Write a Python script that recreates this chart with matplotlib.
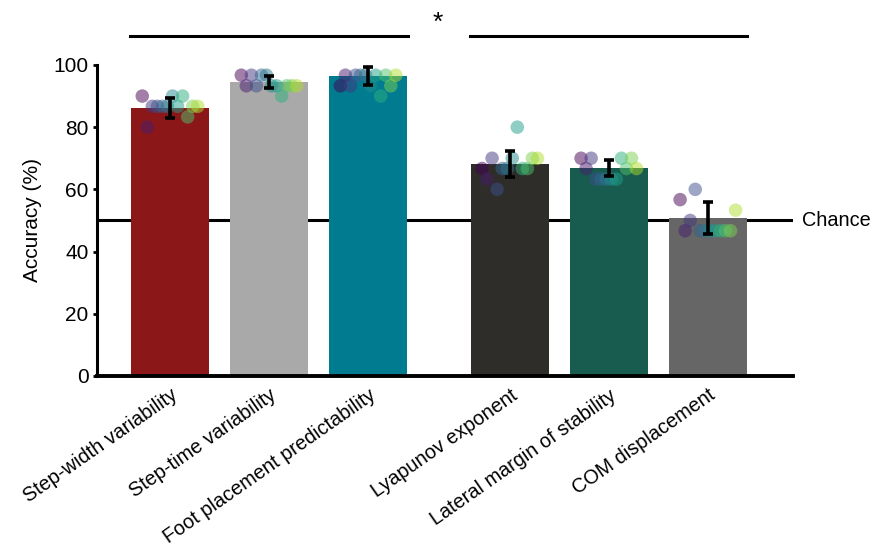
import numpy as np
import matplotlib.pyplot as plt
from matplotlib import cm

plt.rcParams['font.family'] = ['Liberation Sans', 'DejaVu Sans']

labels = ['Step-width variability', 'Step-time variability', 'Foot placement predictability',
          'Lyapunov exponent', 'Lateral margin of stability', 'COM displacement']
xpos = [0, 1, 2, 3.43, 4.43, 5.43]
means = [86.2, 94.5, 96.5, 68.2, 66.9, 50.8]
sems = [3.2, 1.9, 2.9, 4.2, 2.6, 5.0]
bar_colors = ['#8b1719', '#a9a9a9', '#007b8f', '#2e2d2a', '#175c4f', '#666666']

# per-participant accuracy (12 participants)
step_width = [90, 80, 86.7, 86.7, 86.7, 86.7, 90, 86.7, 90, 83.3, 86.7, 86.7]
step_time = [96.7, 93.3, 96.7, 93.3, 96.7, 96.7, 93.3, 93.3, 90, 93.3, 93.3, 93.3]
foot_place = [93.3, 96.7, 93.3, 96.7, 96.7, 96.7, 93.3, 96.7, 90, 96.7, 93.3, 96.7]
lyapunov = [66.7, 63.3, 70, 60, 66.7, 66.7, 70, 80, 66.7, 66.7, 70, 70]
lat_mos = [70, 66.7, 70, 63.3, 63.3, 63.3, 63.3, 63.3, 70, 66.7, 70, 66.7]
com_disp = [56.7, 46.7, 50, 60, 46.7, 46.7, 46.7, 46.7, 46.7, 46.7, 46.7, 53.3]
subjects = [step_width, step_time, foot_place, lyapunov, lat_mos, com_disp]

chance = 50
sig_y = 109.3

fig = plt.figure(figsize=(8.73, 5.5), dpi=100)
ax = fig.add_axes([0.1111, 0.3164, 0.7973, 0.5655])

ax.bar(xpos, means, width=0.79, color=bar_colors, zorder=1)

n = len(step_width)
cols = cm.viridis(np.linspace(0, 0.88, n))
offs = np.linspace(-0.28, 0.28, n)
for x, vals in zip(xpos, subjects):
    ax.scatter(x + offs, vals, s=95, c=cols, alpha=0.5, linewidths=0, zorder=2)

ax.errorbar(xpos, means, yerr=sems, fmt='none', ecolor='black', elinewidth=2.6,
            capsize=3.5, capthick=2.6, zorder=3)

ax.axhline(chance, color='black', lw=2.2, zorder=0)
ax.text(6.38, chance, 'Chance', fontsize=14.3, va='center', ha='left')

# significance lines between the two groups
ax.plot([-0.4, 2.4], [sig_y, sig_y], color='black', lw=2.2, clip_on=False)
ax.plot([3.03, 5.83], [sig_y, sig_y], color='black', lw=2.2, clip_on=False)
ax.text(2.70, sig_y + 0.5, '*', fontsize=19, ha='center', va='bottom')

ax.set_xlim(-0.737, 6.29)
ax.set_ylim(0, 100)
ax.set_yticks([0, 20, 40, 60, 80, 100])
ax.set_xticks(xpos)
ax.set_xticklabels(labels, rotation=35, ha='right', rotation_mode='anchor', fontsize=14.3)
ax.tick_params(axis='x', length=0, pad=7)
ax.tick_params(axis='y', length=3, width=2, labelsize=15, pad=3)
ax.set_ylabel('Accuracy (%)', fontsize=15, labelpad=8)

for s in ['top', 'right']:
    ax.spines[s].set_visible(False)
ax.spines['left'].set_linewidth(2.2)
ax.spines['bottom'].set_linewidth(2.8)

fig.savefig('out.png', dpi=100)
